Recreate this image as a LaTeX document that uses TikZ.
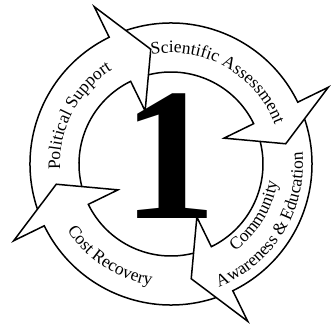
\documentclass[tikz,border=0pt]{standalone}
\usepackage{fontspec}
\setmainfont{Liberation Serif}
\usepackage{tikz}
\usetikzlibrary{decorations.text}
\newcommand{\ringfont}{\fontsize{17.5}{21}\selectfont}
\tikzset{
  band/.style={draw=black, line width=1.5pt, line join=miter},
  ringtext/.style={decorate, decoration={text along path, text align=center, text={|\ringfont|#1}}}
}

\begin{document}
\begin{tikzpicture}[x=1pt, y=1pt]
  \useasboundingbox (-171,-163) rectangle (162,164);
  % four bands, each tail tucked into the head before it
  \foreach \tl/\hd in {206/116, 116/26, 26/-64, -64/-154}{
    \draw[band] ({\tl-7.3}:141) arc[start angle={\tl-7.3}, end angle=\hd, radius=141]
      -- (\hd:175) -- ({\hd-16}:116.5) -- (\hd:59) -- (\hd:92)
      arc[start angle=\hd, end angle={\tl-11.8}, radius=92];
  }
  % labels on the bands
  \path[ringtext={Political Support}] (212.5:111) arc[start angle=212.5, end angle=92.5, radius=111];
  \path[ringtext={Scientific Assessment}] (125.4:111) arc[start angle=125.4, end angle=-4.6, radius=111];
  \path[ringtext={Community}] (-96.5:108) arc[start angle=-96.5, end angle=33.5, radius=108];
  \path[ringtext={Awareness {\&} Education}] (-101.8:132) arc[start angle=-101.8, end angle=38.2, radius=132];
  \path[ringtext={Cost Recovery}] (181.6:123) arc[start angle=181.6, end angle=291.6, radius=123];
  % the big digit
  \node[font=\fontsize{189}{189}\bfseries\selectfont, inner sep=0pt] (one) at (-1,8) {1};
\end{tikzpicture}
\end{document}
